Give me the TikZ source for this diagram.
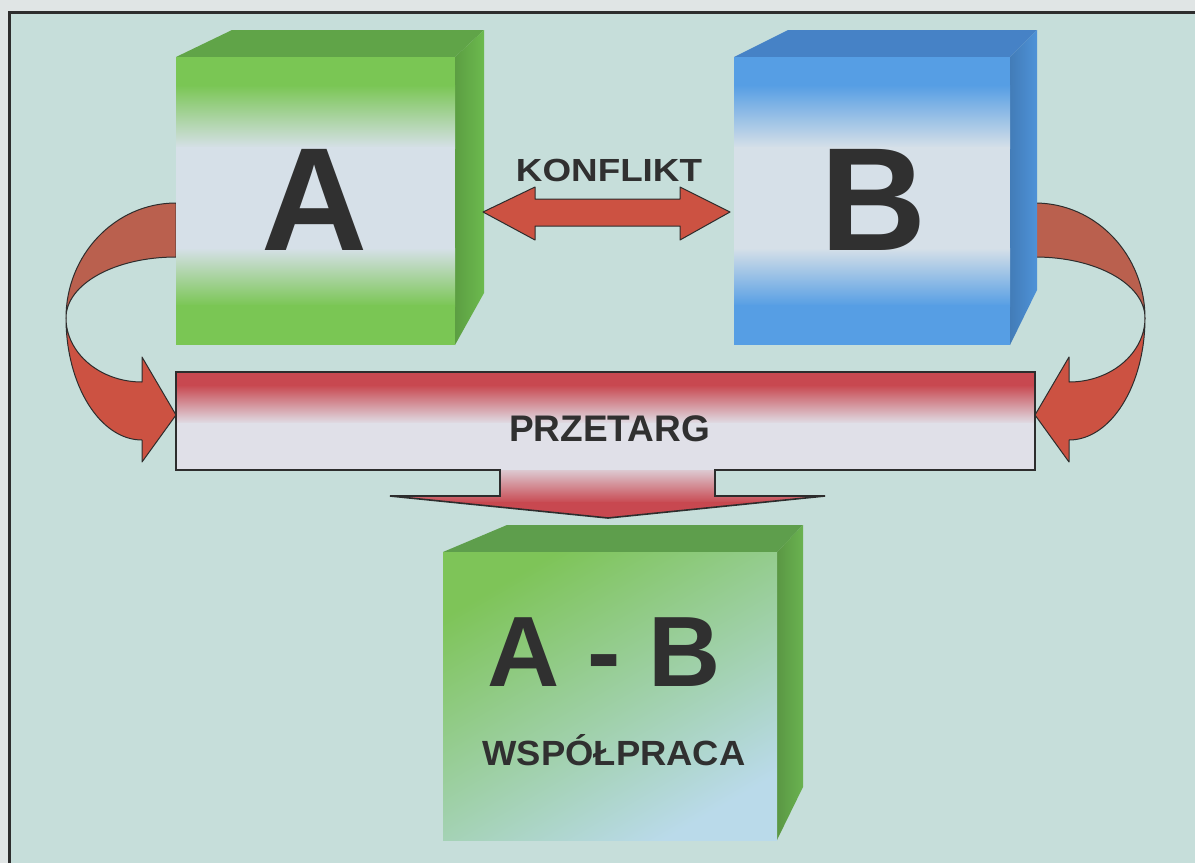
\documentclass[tikz,border=0pt]{standalone}
\usepackage{fontspec}
\setmainfont{Liberation Sans}
\usepackage{graphicx}
\definecolor{bg}{RGB}{198,222,218}
\definecolor{outerbg}{RGB}{224,229,229}
\definecolor{frame}{RGB}{45,45,45}
\definecolor{txt}{RGB}{48,48,48}
\definecolor{gA}{RGB}{122,198,84}
\definecolor{gAtop}{RGB}{96,164,72}
\definecolor{gAside}{RGB}{108,186,78}
\definecolor{wh}{RGB}{214,224,232}
\definecolor{bB}{RGB}{86,158,228}
\definecolor{bBtop}{RGB}{70,130,198}
\definecolor{bBside}{RGB}{78,146,216}
\definecolor{redA}{RGB}{204,82,66}
\definecolor{redU}{RGB}{186,96,78}
\definecolor{bannerred}{RGB}{200,72,80}
\definecolor{bannerwh}{RGB}{224,224,232}
\definecolor{abgreen}{RGB}{126,196,88}
\definecolor{abblue}{RGB}{186,218,234}
\definecolor{abtop}{RGB}{94,158,76}
\definecolor{abside}{RGB}{106,178,80}
\newcommand\frontface[4]{%
  \fill[#4] (#1,#3) rectangle (#2,#3+29);
  \shade[top color=#4,bottom color=wh] (#1,#3+28) rectangle (#2,#3+91);
  \fill[wh] (#1,#3+90) rectangle (#2,#3+192);
  \shade[top color=wh,bottom color=#4] (#1,#3+191) rectangle (#2,#3+249);
  \fill[#4] (#1,#3+248) rectangle (#2,#3+288);}
\tikzset{
  arrowline/.style={draw=frame, line width=1pt, line join=round},
  bannerline/.style={draw=frame, line width=1.6pt, line join=miter},
  bigletter/.style={inner sep=0pt, text=txt, font=\bfseries\fontsize{147}{147}\selectfont},
  midletter/.style={inner sep=0pt, text=txt, font=\bfseries\fontsize{100}{100}\selectfont},
  txtlabel/.style={inner sep=0pt, text=txt, font=\bfseries\fontsize{#1}{#1}\selectfont},
}
\begin{document}
\begin{tikzpicture}[x=1pt,y=-1pt]
\useasboundingbox (0,0) rectangle (1195,863);
\fill[outerbg] (0,0) rectangle (1195,863);
\fill[bg] (9,12) rectangle (1195,863);
\draw[frame, line width=3pt] (9,863) -- (9,12) -- (1195,12);

% twisted curved arrows (left, then mirrored right)
\foreach \sh/\sc in {0/1, 1211/-1}{
\begin{scope}[shift={(\sh,0)}, xscale=\sc]
  \draw[arrowline, fill=redU] (176,203) .. controls (115,203) and (66,255) .. (66,318)
        .. controls (66,284) and (115,257) .. (176,257) -- cycle;
  \draw[arrowline, fill=redA] (66,318) .. controls (66,385) and (100,440) .. (142,440)
        -- (142,462) -- (176,415) -- (142,357) -- (142,382)
        .. controls (100,382) and (66,353) .. (66,318) -- cycle;
\end{scope}
}

% cube A
\fill[gAtop] (176,57) -- (232,30) -- (484,30) -- (455,57) -- cycle;
\shade[left color=gAside!85!black, right color=gAside] (455,57) -- (484,30) -- (484,293) -- (455,345) -- cycle;
\frontface{176}{455}{57}{gA}
\node[bigletter] (A) at (315,199.5) {A};

% cube B
\fill[bBtop] (734,57) -- (788,30) -- (1037,30) -- (1010,57) -- cycle;
\shade[left color=bBside!85!black, right color=bBside] (1010,57) -- (1037,30) -- (1037,290) -- (1010,345) -- cycle;
\frontface{734}{1010}{57}{bB}
\node[bigletter] (B) at (874,199.5) {B};

% conflict double arrow
\node[txtlabel=32] (konflikt) at (609,170) {\scalebox{1.15}[1]{KONFLIKT}};
\coordinate (kl) at (483,212);
\coordinate (kr) at (730,212);
\draw[arrowline, fill=redA] (kl) -- (535,187) -- (535,199) -- (680,199) -- (680,187) -- (kr)
      -- (680,240) -- (680,226) -- (535,226) -- (535,240) -- cycle;

% PRZETARG banner arrow
\begin{scope}
  \clip (176,372) -- (1035,372) -- (1035,470) -- (715,470) -- (715,496) -- (825,496) -- (608,518)
        -- (390,496) -- (500,496) -- (500,470) -- (176,470) -- cycle;
  \fill[bannerred] (170,365) rectangle (1040,386);
  \shade[top color=bannerred, bottom color=bannerwh] (170,385) rectangle (1040,424);
  \fill[bannerwh] (170,423) rectangle (1040,471);
  \shade[top color=bannerwh!85!bannerred, bottom color=bannerred] (380,470) rectangle (830,503);
  \fill[bannerred] (380,502) rectangle (830,522);
\end{scope}
\draw[bannerline] (176,372) -- (1035,372) -- (1035,470) -- (715,470) -- (715,496) -- (825,496) -- (608,518)
      -- (390,496) -- (500,496) -- (500,470) -- (176,470) -- cycle;
\node[txtlabel=37] (przetarg) at (609.5,428.5) {PRZETARG};

% cube A-B
\fill[abtop] (443,552) -- (507,525) -- (803,525) -- (777,552) -- cycle;
\shade[left color=abside!85!black, right color=abside] (777,552) -- (803,525) -- (803,787) -- (777,840) -- cycle;
\shade[top color=abgreen, bottom color=abblue, shading angle=30] (443,552) rectangle (777,840);
\node[midletter] (AB) at (604,652.5) {A - B};
\node[txtlabel=35, anchor=base] (wsp) at (614,765) {\scalebox{1.04}[1]{WSPÓŁPRACA}};
\end{tikzpicture}
\end{document}
